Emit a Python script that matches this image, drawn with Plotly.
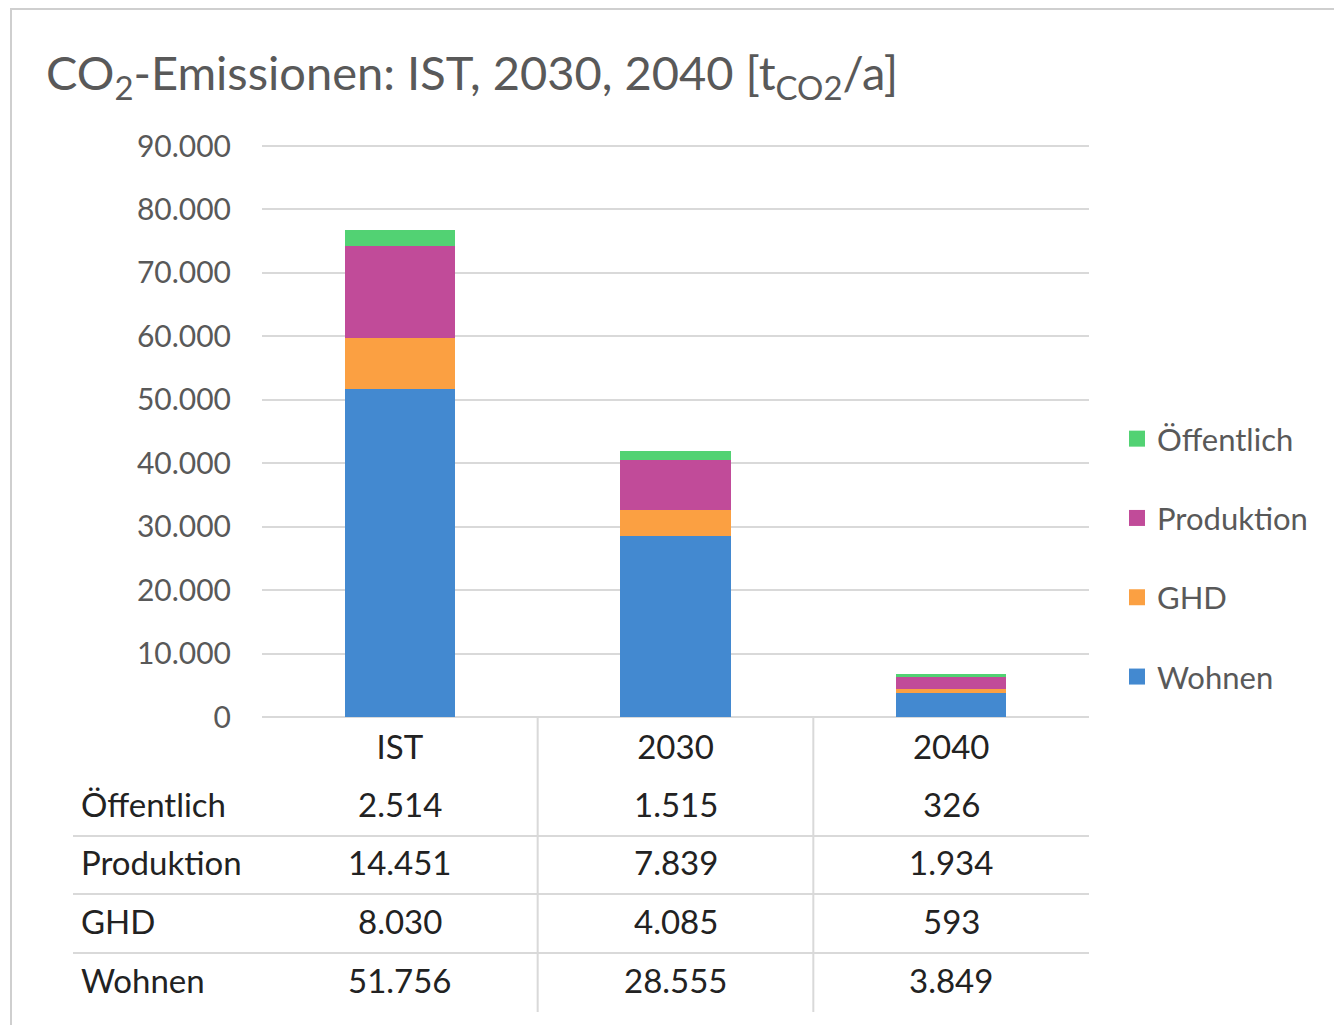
import plotly.graph_objects as go

categories = ["IST", "2030", "2040"]
series_names = ["Wohnen", "GHD", "Produktion", "Öffentlich"]
wohnen = [51756, 28555, 3849]
ghd = [8030, 4085, 593]
produktion = [14451, 7839, 1934]
oeffentlich = [2514, 1515, 326]
y_ticks = [0, 10000, 20000, 30000, 40000, 50000, 60000, 70000, 80000, 90000]

colors = {"Wohnen": "#4389D0", "GHD": "#FBA042", "Produktion": "#C14B99", "Öffentlich": "#52D273"}
values = {"Wohnen": wohnen, "GHD": ghd, "Produktion": produktion, "Öffentlich": oeffentlich}
legend_rank = {"Öffentlich": 1, "Produktion": 2, "GHD": 3, "Wohnen": 4}

W, H = 1342, 1025
OFF = 8  # page body margin
def px(x):
    return (x - OFF) / W
def py(y):
    return 1 - (y - OFF) / H

FONT = "Lato, 'Open Sans', sans-serif"
TXT = "#222222"
GRAY = "#595959"

Y_MAX = 90200
y_top_px = 717 - (717 - 146) * Y_MAX / 90000

fig = go.Figure()
for name in series_names:
    fig.add_trace(go.Bar(
        x=categories, y=values[name], name=name,
        marker=dict(color=colors[name], line=dict(width=0)),
        width=0.4, showlegend=False, legendgroup=name,
    ))
# legend entries with larger square swatches
for name in series_names:
    fig.add_trace(go.Scatter(
        x=[None], y=[None], mode="markers", name=name,
        marker=dict(symbol="square", size=16, color=colors[name]),
        legendgroup=name, legendrank=legend_rank[name], showlegend=True,
    ))

def fmt(v):
    return f"{v:,}".replace(",", ".")

annotations = []
shapes = []
table_rows = ["Öffentlich", "Produktion", "GHD", "Wohnen"]
row_y = [804, 862, 921, 980]
for name, yy in zip(table_rows, row_y):
    annotations.append(dict(x=px(79), y=py(yy), xref="paper", yref="paper", text=name,
                            showarrow=False, xanchor="left", yanchor="middle",
                            font=dict(size=33, color=TXT, family=FONT)))
    for ci, v in enumerate(values[name]):
        annotations.append(dict(x=ci, y=py(yy), xref="x", yref="paper", text=fmt(v),
                                showarrow=False, xanchor="center", yanchor="middle",
                                font=dict(size=33, color=TXT, family=FONT)))

grid_col = "#D9D9D9"
for yy in [836, 894, 953]:
    shapes.append(dict(type="line", xref="paper", yref="paper", x0=px(73), x1=px(1089),
                       y0=py(yy), y1=py(yy), line=dict(color=grid_col, width=2)))
for xv in [0.5, 1.5]:
    shapes.append(dict(type="line", xref="x", yref="paper", x0=xv, x1=xv,
                       y0=py(717), y1=py(1012), line=dict(color=grid_col, width=2)))
# outer frame
shapes.append(dict(type="rect", xref="paper", yref="paper", x0=px(11), x1=px(1400),
                   y0=py(1100), y1=py(9), line=dict(color="#CFCFCF", width=2),
                   fillcolor="rgba(0,0,0,0)", layer="below"))

fig.update_layout(
    width=W, height=H,
    margin=dict(l=0, r=0, t=0, b=0, autoexpand=False),
    paper_bgcolor="white", plot_bgcolor="white",
    separators=",.",
    barmode="stack",
    title=dict(text="CO<sub>2</sub>-Emissionen: IST, 2030, 2040 [t<sub>CO2</sub>/a]",
               x=px(46), xanchor="left", xref="paper", y=py(74), yanchor="middle", yref="paper",
               automargin=False,
               font=dict(size=47, color=GRAY, family=FONT)),
    xaxis=dict(type="category", domain=[px(262), px(1089)], range=[-0.5, 2.5], showgrid=False,
               showline=False, zeroline=False, ticks="", ticklabelstandoff=8, automargin=False,
               tickfont=dict(size=33, color=TXT, family=FONT), fixedrange=True),
    yaxis=dict(domain=[py(717), py(y_top_px)], range=[0, Y_MAX], tickvals=y_ticks,
               tickformat=",d", showgrid=True, gridcolor=grid_col, gridwidth=2,
               zeroline=True, zerolinecolor=grid_col, zerolinewidth=2, showline=False,
               ticks="", ticklabelstandoff=30, automargin=False,
               tickfont=dict(size=30, color=GRAY, family=FONT)),
    legend=dict(x=px(1117), y=py(412), xanchor="left", yanchor="top",
                traceorder="grouped", tracegroupgap=36,
                font=dict(size=31, color=GRAY, family=FONT),
                itemwidth=30, bgcolor="rgba(0,0,0,0)"),
    annotations=annotations,
    shapes=shapes,
)

fig.write_html("out.html")
